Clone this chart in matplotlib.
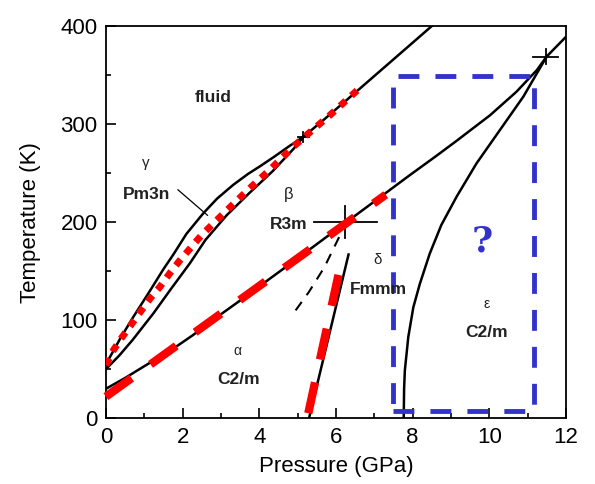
import numpy as np
import matplotlib
matplotlib.use("Agg")
import matplotlib.pyplot as plt
from matplotlib.patches import Rectangle

plt.rcParams['font.family'] = ['Liberation Sans', 'DejaVu Sans']

# curvas de fase (P en GPa, T en K)
fusion_p = [0.0, 0.37, 0.71, 1.15, 1.5, 1.76, 2.1, 2.54, 2.9, 3.32, 3.7, 4.02, 4.4, 4.8, 5.15,
            5.7, 6.5, 7.5, 8.5]
fusion_t = [55, 81, 103, 130, 152, 167, 188, 209, 224, 238, 249, 257, 267, 278, 287,
            305, 332, 366, 400]

gamma_beta_p = [0.0, 0.35, 0.7, 1.24, 1.7, 2.19, 2.6, 3.15, 3.75, 4.35, 4.9, 5.15]
gamma_beta_t = [50, 64, 80, 107, 132, 158, 182, 207, 230, 252, 275, 287]

alfa_beta_p = [0.0, 0.5, 1.0, 1.76, 2.28, 3.0, 3.5, 4.02, 5.0, 6.24, 7.0, 7.93, 8.6, 9.15,
               10.02, 10.71, 11.24, 11.5, 12.0]
alfa_beta_t = [30, 41, 53, 71, 85, 106, 120, 135, 163, 199, 221, 248, 267, 283,
               309, 333, 355, 369, 389]

epsilon_p = [7.77, 7.78, 7.8, 7.89, 8.02, 8.19, 8.45, 8.75, 9.15, 9.67, 10.28, 10.89, 11.5]
epsilon_t = [0, 30, 49, 83, 113, 137, 168, 197, 226, 260, 294, 328, 369]

delta_p = [5.3, 6.33]
delta_t = [0, 167]

delta_meta_p = [4.95, 5.3, 5.7, 6.15]
delta_meta_t = [110, 129, 154, 190]

# lineas rojas superpuestas
rojo_punteado_p = [0.0, 0.19, 0.41, 0.67, 0.89, 1.15, 1.41, 1.67, 1.93, 2.5, 3.1, 3.71, 4.32,
                   4.89, 5.24, 5.84, 6.57]
rojo_punteado_t = [54, 69, 82, 96, 108, 122, 134, 148, 161, 187, 210, 233, 255,
                   277, 289, 309, 335]

rojo_ab_p = [0.0, 7.3]
rojo_ab_t = [22, 228]

rojo_delta_p = [5.28, 6.1]
rojo_delta_t = [5, 152]

# rectangulo azul (P izq, P der, T inf, T sup)
caja = [7.5, 11.17, 7.5, 349]

# puntos triples marcados con cruz: (P, T, semiancho P, semialto T)
cruces = [(6.24, 200, 0.82, 16), (11.47, 369, 0.33, 8), (5.15, 287, 0.14, 5)]

etiquetas = [
    ("fluid", 2.79, 327, 12.5, "bold"),
    ("\u03b3", 1.05, 260, 11, "normal"),
    ("Pm3n", 1.05, 228, 12.5, "bold"),
    ("\u03b2", 4.76, 228, 12, "normal"),
    ("R3m", 4.77, 198, 12.5, "bold"),
    ("\u03b4", 7.1, 161, 11, "normal"),
    ("Fmmm", 7.1, 131, 12.5, "bold"),
    ("\u03b1", 3.42, 69, 10, "normal"),
    ("C2/m", 3.47, 39, 12.5, "bold"),
    ("\u03b5", 9.93, 117, 10, "normal"),
    ("C2/m", 9.93, 87, 12.5, "bold"),
]

fig = plt.figure(figsize=(5.95, 4.84), dpi=100)
ax = fig.add_axes([0.178, 0.136, 0.773, 0.81])

negro = dict(color="black", lw=1.8, zorder=2, solid_joinstyle="round")
ax.plot(fusion_p, fusion_t, **negro)
ax.plot(gamma_beta_p, gamma_beta_t, **negro)
ax.plot(alfa_beta_p, alfa_beta_t, **negro)
ax.plot(epsilon_p, epsilon_t, **negro)
ax.plot(delta_p, delta_t, **negro)
ax.plot(delta_meta_p, delta_meta_t, color="black", lw=1.5, ls=(0, (5, 4)), zorder=2)

for p, t, dp, dt in cruces:
    ax.plot([p - dp, p + dp], [t, t], color="black", lw=1.3, zorder=2)
    ax.plot([p, p], [t - dt, t + dt], color="black", lw=1.3, zorder=2)

# leader de Pm3n
ax.plot([1.88, 2.65], [233, 207], color="black", lw=0.9, zorder=2)

ax.plot(rojo_punteado_p, rojo_punteado_t, color="red", lw=5, ls=(0, (1.1, 1.1)),
        dash_capstyle="butt", zorder=3)
ax.plot(rojo_ab_p, rojo_ab_t, color="red", lw=6, ls=(0, (3.8, 2.8)),
        dash_capstyle="butt", zorder=3, clip_on=False)
ax.plot(rojo_delta_p, rojo_delta_t, color="red", lw=6, ls=(0, (3.8, 2.8)),
        dash_capstyle="butt", zorder=3)

x0, x1, y0, y1 = caja
ax.add_patch(Rectangle((x0, y0), x1 - x0, y1 - y0, fill=False, edgecolor="#3333cc",
                       lw=3.5, ls=(0, (4.3, 3.3)), zorder=4))
ax.text(9.81, 180, "?", color="#3333cc", fontsize=26, fontweight="bold",
        family="DejaVu Serif", ha="center", va="center", zorder=5)

for txt, p, t, fs, fw in etiquetas:
    ax.text(p, t, txt, fontsize=fs, fontweight=fw, color="#222222",
            ha="center", va="center", zorder=5)

ax.set_xlim(0, 12)
ax.set_ylim(0, 400)
ax.set_xticks(np.arange(0, 13, 2))
ax.set_xticks(np.arange(0, 13, 1), minor=True)
ax.set_yticks(np.arange(0, 401, 100))
ax.set_yticks(np.arange(0, 401, 50), minor=True)
ax.tick_params(which="both", direction="in", top=False, right=False,
               labelsize=16, width=1.2, pad=6)
ax.tick_params(which="major", length=7)
ax.tick_params(which="minor", length=3.5)
for s in ax.spines.values():
    s.set_linewidth(1.3)

ax.set_xlabel("Pressure (GPa)", fontsize=16, labelpad=6)
ax.set_ylabel("Temperature (K)", fontsize=16, labelpad=14)

fig.savefig("out.png", dpi=100)
